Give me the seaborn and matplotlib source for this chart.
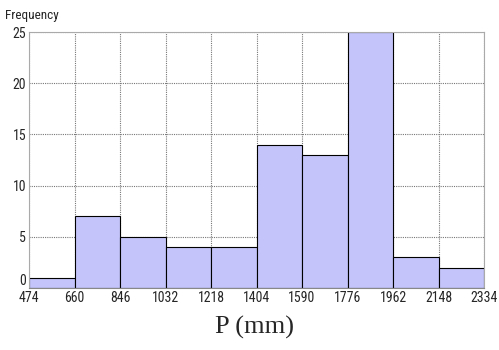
import numpy as np
import pandas as pd
import seaborn as sns
import matplotlib.pyplot as plt

# bin edges and counts
bin_edges = [474, 660, 846, 1032, 1218, 1404, 1590, 1776, 1962, 2148, 2334]
counts = [1, 7, 5, 4, 4, 14, 13, 25, 3, 2]
y_ticks = [0, 5, 10, 15, 20, 25]

centers = [(bin_edges[i] + bin_edges[i + 1]) / 2 for i in range(len(counts))]
df = pd.DataFrame({"P": centers, "n": counts})

sns.set_style("white")
narrow = ["Liberation Sans Narrow", "DejaVu Sans Condensed", "Roboto Condensed", "DejaVu Sans"]

fig = plt.figure(figsize=(4.99, 3.5), dpi=100)
ax = fig.add_axes([29 / 499, 1 - 288 / 350, (484 - 29) / 499, (288 - 32) / 350])

sns.histplot(data=df, x="P", weights="n", bins=bin_edges, ax=ax,
             color="#c4c4fa", alpha=1, edgecolor="black", linewidth=0.8)

ax.set_xlim(474, 2334)
ax.set_ylim(0, 25)
ax.set_xticks(bin_edges)
ax.set_yticks(y_ticks)
ax.grid(True, color="#777777", linestyle=(0, (1, 1)), linewidth=0.8)
ax.set_axisbelow(True)
for s in ax.spines.values():
    s.set_color("#aaaaaa")
    s.set_linewidth(0.8)
ax.spines["bottom"].set_color("#888888")

ax.tick_params(axis="x", length=0, pad=2)
ax.tick_params(axis="y", length=0, pad=2)
for lab in ax.get_xticklabels() + ax.get_yticklabels():
    lab.set_family(narrow)
    lab.set_stretch("condensed")
    lab.set_fontsize(10)
# the zero label sits just above the baseline, clear of the 474 label
ax.get_yticklabels()[0].set_verticalalignment("bottom")

ax.set_xlabel("")
ax.set_ylabel("")
fig.text(5 / 499, 1 - 16 / 350, "Frequency", family=narrow, stretch="condensed",
         fontsize=9.5, va="center")
fig.text(255 / 499, 1 - 327 / 350, "P (mm)", family="Liberation Serif",
         fontsize=19, ha="center", va="center")

fig.savefig("out.png", dpi=100)
